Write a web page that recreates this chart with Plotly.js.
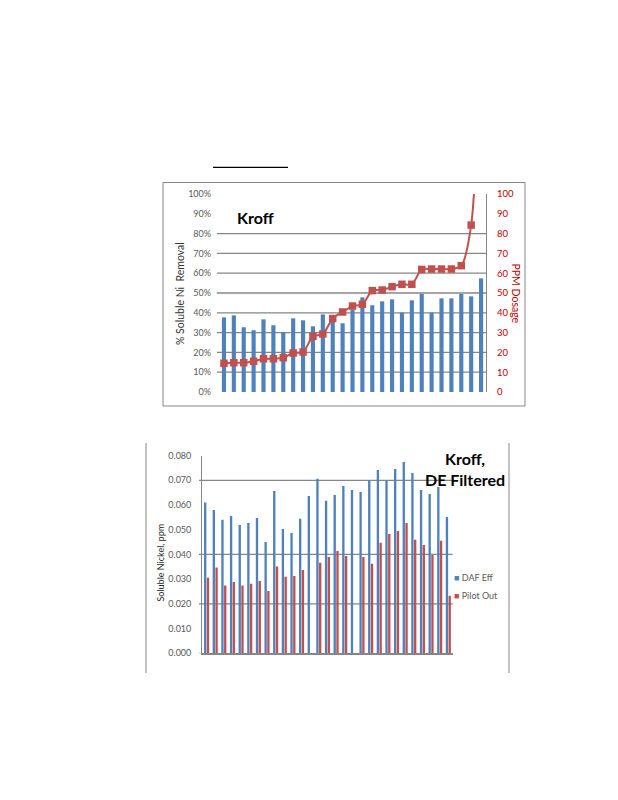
<!DOCTYPE html>
<html>
<head>
<meta charset="utf-8">
<script src="https://cdn.plot.ly/plotly-3.0.1.min.js"></script>
<style>
  html, body { margin: 0; padding: 0; background: #ffffff; }
  #chart { width: 618px; height: 800px; }
</style>
</head>
<body>
<div id="chart"></div>
<script>
// ---------- Data: top chart (Kroff) ----------
const topRuns = [1,2,3,4,5,6,7,8,9,10,11,12,13,14,15,16,17,18,19,20,21,22,23,24,25,26,27];
const removalPct = [37.7,38.7,32.7,31.2,36.7,33.7,30.2,37.2,36.2,33.2,39.2,36.5,34.7,41.5,47.8,43.8,45.8,46.8,40.1,46.3,49.5,40.1,47.3,47.3,49.5,48.3,57.4];
const ppmDosage = [14.5,14.8,14.8,15.5,16.8,16.8,17.3,19.7,20.2,28.1,29.3,37.1,40.4,43.4,44.3,51.2,51.5,53.2,54.4,54.4,61.9,62.1,62.1,62.1,63.8,84.3,200];
const topGridPct = [10,20,30,40,50,60,70,80];

// ---------- Data: bottom chart (Kroff, DE Filtered) ----------
const bottomRuns = [1,2,3,4,5,6,7,8,9,10,11,12,13,14,15,16,17,18,19,20,21,22,23,24,25,26,27,28,29];
const dafEff = [0.0610,0.0580,0.0540,0.0556,0.0519,0.0527,0.0548,0.0450,0.0657,0.0503,0.0487,0.0544,0.0637,0.0706,0.0617,0.0641,0.0677,0.0661,0.0653,0.0700,0.0742,0.0699,0.0746,0.0774,0.0730,0.0661,0.0645,0.0673,0.0552];
const pilotOut = [0.0306,0.0347,0.0274,0.0289,0.0274,0.0281,0.0293,0.0252,0.0351,0.0310,0.0313,0.0337,null,0.0366,0.0390,0.0414,0.0394,null,0.0390,0.0362,0.0447,0.0483,0.0495,0.0527,0.0459,0.0438,0.0398,0.0455,0.0233];
const bottomGrid = [0.070, 0.040, 0.020];
const seriesNames = ['DAF Eff', 'Pilot Out'];

// ---------- Styling ----------
const W = 618, H = 800;
const px = v => v / W;
const py = v => 1 - v / H;
const BLUE = '#4F81BD', RED = '#C0504D', DARKRED = '#C00000', GRID = '#868686', TICK = '#595959';
const FONT = 'Lato, "Open Sans", "Liberation Sans", sans-serif';

const traces = [
  { type: 'bar', x: topRuns, y: removalPct, xaxis: 'x', yaxis: 'y',
    marker: { color: BLUE }, width: 0.42, showlegend: false, name: '% Soluble Ni Removal' },
  { type: 'scatter', mode: 'lines+markers', x: topRuns, y: ppmDosage, xaxis: 'x', yaxis: 'y2',
    line: { color: RED, width: 2, shape: 'spline', smoothing: 0.8 },
    marker: { color: RED, symbol: 'square', size: 7.5 }, showlegend: false, name: 'PPM Dosage' },
  { type: 'bar', x: bottomRuns, y: dafEff, xaxis: 'x2', yaxis: 'y3',
    marker: { color: BLUE }, width: 0.27, offset: -0.3, showlegend: false, name: seriesNames[0] },
  { type: 'bar', x: bottomRuns, y: pilotOut, xaxis: 'x2', yaxis: 'y3',
    marker: { color: RED }, width: 0.27, offset: 0.02, showlegend: false, name: seriesNames[1] }
];

const shapes = [];
topGridPct.forEach(v => shapes.push({
  type: 'line', xref: 'x domain', yref: 'y', x0: -0.008, x1: 1, y0: v, y1: v,
  line: { color: GRID, width: 1.3 }, layer: 'below'
}));
bottomGrid.forEach(v => shapes.push({
  type: 'line', xref: 'paper', yref: 'y3', x0: px(199), x1: px(452.7), y0: v, y1: v,
  line: { color: GRID, width: 1.3 }, layer: 'below'
}));
// frame of top chart
shapes.push({ type: 'rect', xref: 'paper', yref: 'paper', x0: px(163), x1: px(525), y0: py(406), y1: py(182.5),
  line: { color: GRID, width: 1 } });
// underline above top chart
shapes.push({ type: 'line', xref: 'paper', yref: 'paper', x0: px(213), x1: px(288), y0: py(167.3), y1: py(167.3),
  line: { color: '#000000', width: 1.3 } });
// side borders of the bottom chart
shapes.push({ type: 'line', xref: 'paper', yref: 'paper', x0: px(146), x1: px(146), y0: py(443), y1: py(673),
  line: { color: GRID, width: 1 } });
shapes.push({ type: 'line', xref: 'paper', yref: 'paper', x0: px(509), x1: px(509), y0: py(443), y1: py(673),
  line: { color: GRID, width: 1 } });
// x-axis tick stub at zero in bottom chart
shapes.push({ type: 'line', xref: 'paper', yref: 'y3', x0: px(199), x1: px(202.3), y0: 0, y1: 0,
  line: { color: GRID, width: 1.3 } });

const annotations = [
  { text: '<b>Kroff</b>', x: px(255), y: py(217), xref: 'paper', yref: 'paper', showarrow: false,
    xanchor: 'center', yanchor: 'middle', font: { family: FONT, size: 16, color: '#000000' } },
  { text: '% Soluble Ni\u00a0 Removal', x: px(180), y: py(294), xref: 'paper', yref: 'paper', showarrow: false,
    textangle: -90, xanchor: 'center', yanchor: 'middle', font: { family: FONT, size: 10.5, color: '#333333' } },
  { text: 'PPM Dosage', x: px(515.5), y: py(293), xref: 'paper', yref: 'paper', showarrow: false,
    textangle: 90, xanchor: 'center', yanchor: 'middle', font: { family: FONT, size: 10.5, color: DARKRED } },
  { text: '<b>Kroff,</b><br><b>DE Filtered</b>', x: px(465), y: py(469), xref: 'paper', yref: 'paper', showarrow: false,
    align: 'center', xanchor: 'center', yanchor: 'middle', font: { family: FONT, size: 16, color: '#000000' } },
  { text: 'Soluble Nickel, ppm', x: px(159.5), y: py(563), xref: 'paper', yref: 'paper', showarrow: false,
    textangle: -90, xanchor: 'center', yanchor: 'middle', font: { family: FONT, size: 9, color: '#262626' } },
  { text: '<span style="color:' + BLUE + '">\u25A0</span> ' + seriesNames[0], x: px(452), y: py(577), xref: 'paper', yref: 'paper',
    showarrow: false, xanchor: 'left', yanchor: 'middle', font: { family: FONT, size: 9, color: TICK } },
  { text: '<span style="color:' + RED + '">\u25A0</span> ' + seriesNames[1], x: px(452), y: py(595), xref: 'paper', yref: 'paper',
    showarrow: false, xanchor: 'left', yanchor: 'middle', font: { family: FONT, size: 9, color: TICK } }
];

const layout = {
  width: W, height: H,
  margin: { l: 0, r: 0, t: 0, b: 0, pad: 0 },
  paper_bgcolor: '#ffffff', plot_bgcolor: 'rgba(0,0,0,0)',
  font: { family: FONT, size: 9, color: TICK },
  showlegend: false,
  barmode: 'overlay',
  xaxis: { domain: [px(219), px(486)], range: [0.5, 27.5], anchor: 'y',
    showticklabels: false, showgrid: false, zeroline: false, showline: false, ticks: '' },
  yaxis: { domain: [py(392), py(194)], range: [0, 100], dtick: 10, ticksuffix: '%', anchor: 'x',
    showgrid: false, zeroline: false, showline: false, ticks: '', ticklabelstandoff: 7,
    tickfont: { family: FONT, size: 9, color: TICK } },
  yaxis2: { overlaying: 'y', side: 'right', anchor: 'x', range: [0, 100], dtick: 10,
    showgrid: false, zeroline: false, showline: true, linecolor: GRID, linewidth: 1.2, ticks: '',
    ticklabelstandoff: 8, tickfont: { family: FONT, size: 9.5, color: DARKRED } },
  xaxis2: { domain: [px(202.3), px(452.7)], range: [0.5, 29.5], anchor: 'y3',
    showticklabels: false, showgrid: false, zeroline: false, showline: true, linecolor: GRID, linewidth: 1.3, ticks: '' },
  yaxis3: { domain: [py(653.3), py(455.6)], range: [0, 0.08], dtick: 0.01, tickformat: '.3f', anchor: 'x2',
    showgrid: false, zeroline: false, showline: true, linecolor: GRID, linewidth: 1.2, ticks: '',
    ticklabelstandoff: 8, tickfont: { family: FONT, size: 9, color: TICK } },
  shapes: shapes,
  annotations: annotations
};

Plotly.newPlot('chart', traces, layout, { staticPlot: true, displayModeBar: false });
</script>
</body>
</html>
